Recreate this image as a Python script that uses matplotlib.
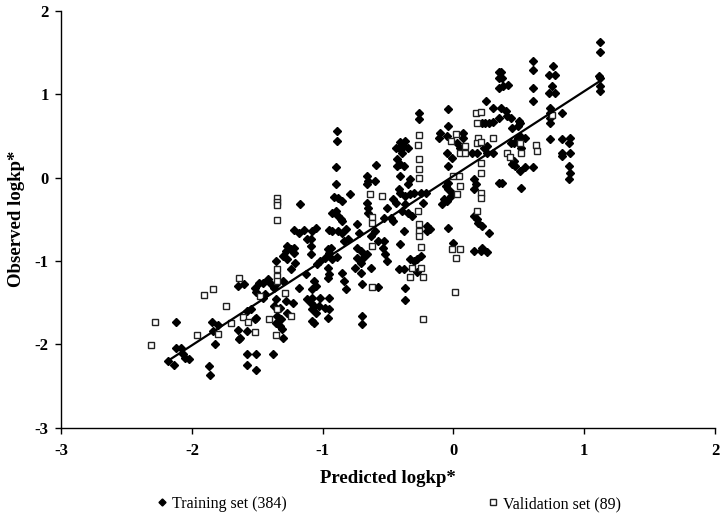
import numpy as np
import matplotlib
matplotlib.use("Agg")
import matplotlib.pyplot as plt

plt.rcParams['font.family'] = ['Liberation Serif', 'DejaVu Serif']
plt.rcParams['axes.unicode_minus'] = False

# --- data (predicted, observed) ---
train_x = [
    -1.65, -1.60, -1.52, -1.51, -1.49, -2.12, -1.85, -1.80, -1.84, -1.82,
    -2.12, -2.08, -2.07, -2.05, -2.02, -2.18, -2.14, -1.87, -1.86, -1.65,
    -1.63, -1.58, -1.64, -1.58, -1.55, -1.51, -1.52, -1.58, -1.51, -1.58,
    -1.51,
    -0.89, -0.89,
    -0.90, -0.59, -0.90, -1.17, -0.79, -0.91, -0.88, -0.85, -0.66, -0.65,
    -0.66, -0.60, -0.93, -0.90, -0.88, -0.86, -0.85, -0.66, -0.65, -0.65,
    -1.22, -1.18, -1.14, -1.08, -1.05, -1.09, -1.09, -1.12, -0.95, -0.93,
    -0.88, -0.85, -0.82, -0.74, -0.72, -1.27, -1.24, -1.22, -1.28, -1.30,
    -1.22, -1.36, -1.27, -1.21, -1.09, -0.96, -0.94, -0.95, -0.98, -0.93,
    -0.89, -0.84, -0.81, -0.74, -0.71, -0.74, -0.69, -0.71, -0.66, -0.63,
    -0.60, -0.58, -1.04, -1.02,
    -1.24, -1.42, -1.40, -1.36, -1.37, -1.46, -1.30, -1.44, -1.46, -1.36,
    -1.37, -1.33, -1.28, -1.23, -1.27, -1.35, -1.32, -1.36, -1.33, -1.31,
    -1.30, -1.38, -1.18, -1.13, -1.07, -1.05, -1.08, -1.12, -1.08, -1.09,
    -1.07, -1.08, -1.05, -1.02, -0.95, -1.03, -0.98, -0.95, -0.96, -1.08,
    -1.07, -0.96, -0.95, -0.96, -0.85, -0.84, -0.82, -0.75, -0.71, -0.70,
    -0.63, -0.70, -0.70, -0.58,
    -0.26, -0.26, -0.04, -0.04, -0.10, -0.11, -0.05, 0.07, 0.07, 0.03,
    0.05, -0.41, -0.37, -0.38, -0.42, -0.44, -0.35, 0.25, 0.30, 0.22,
    0.24, 0.27, 0.30, 0.35, 0.35, 0.35, 0.35, 0.26, 0.23,
    -0.43, -0.41, -0.38, -0.43, -0.39, -0.41, -0.35, -0.33, -0.42, -0.41,
    -0.46, -0.44, -0.37, -0.33, -0.30, -0.25, -0.23, -0.21, -0.37, -0.39,
    -0.35, -0.32, -0.51, -0.53, -0.48, -0.46, -0.38, -0.41, -0.20, -0.18,
    -0.20, -0.53, -0.04, -0.05, -0.01, -0.04, -0.06, -0.04, -0.02, -0.07,
    -0.05, -0.09, -0.01, -0.04, 0.16, 0.17, 0.16, 0.14, 0.18, 0.26,
    0.30, 0.16, 0.18, 0.19, 0.22, 0.27, 0.16, 0.21, 0.26, 0.22,
    0.00, -0.54, -0.52, -0.51, -0.33, -0.30, -0.28, -0.25, 0.35,
    -0.42, -0.38, -0.28, -0.37, -0.37,
    1.12, 1.12, 1.11, 1.12, 1.12, 1.12, 0.61, 0.61, 0.61, 0.61,
    0.76, 0.73, 0.78, 0.75, 0.73, 0.78, 0.74, 0.74, 0.74, 0.74,
    0.83, 0.74, 0.83, 0.89, 0.88, 0.36, 0.37, 0.38, 0.42, 0.36,
    0.40, 0.41, 0.44, 0.50, 0.51, 0.49, 0.45, 0.51, 0.55, 0.49,
    0.46, 0.44, 0.52,
    0.46, 0.45, 0.47, 0.55, 0.61, 0.51, 0.37, 0.52, 0.83, 0.83,
    0.89, 0.88, 0.89, 0.88,
]
train_y = [
    -1.30, -1.28, -1.32, -1.37, -1.26, -1.73, -1.73, -1.77, -1.84, -2.00,
    -2.04, -2.04, -2.12, -2.16, -2.18, -2.20, -2.25, -2.26, -2.37, -1.83,
    -1.92, -1.84, -1.94, -1.60, -1.58, -1.68, -1.70, -2.12, -2.12, -2.25,
    -2.31,
    0.56, 0.44,
    0.13, 0.15, -0.08, -0.32, -0.20, -0.23, -0.25, -0.28, 0.02, -0.04,
    -0.08, -0.04, -0.42, -0.40, -0.46, -0.50, -0.52, -0.30, -0.36, -0.42,
    -0.63, -0.66, -0.63, -0.64, -0.60, -0.74, -0.82, -0.74, -0.63, -0.64,
    -0.64, -0.66, -0.62, -0.56, -0.66, -0.82, -0.86, -0.84, -0.88, -0.94,
    -0.90, -1.00, -0.98, -1.02, -0.92, -0.86, -0.84, -0.90, -0.96, -0.98,
    -0.95, -0.76, -0.74, -0.84, -0.88, -0.96, -0.96, -1.02, -0.92, -0.70,
    -0.64, -0.76, -1.03, -1.00,
    -1.10, -1.22, -1.26, -1.28, -1.32, -1.26, -1.24, -1.40, -1.44, -1.46,
    -1.54, -1.56, -1.48, -1.50, -1.62, -1.66, -1.70, -1.74, -1.78, -1.82,
    -1.92, -2.12, -1.32, -1.16, -1.24, -1.30, -1.34, -1.46, -1.44, -1.50,
    -1.54, -1.58, -1.62, -1.44, -1.44, -1.54, -1.56, -1.58, -1.68, -1.72,
    -1.74, -1.08, -1.16, -1.20, -1.14, -1.24, -1.34, -1.08, -1.14, -1.28,
    -1.08, -1.66, -1.76, -1.31,
    0.78, 0.70, 0.82, 0.62, 0.54, 0.47, 0.50, 0.54, 0.47, 0.41,
    0.36, 0.43, 0.44, 0.38, 0.35, 0.35, 0.35, 0.92, 0.83, 0.66,
    0.65, 0.66, 0.67, 1.27, 1.19, 1.07, 0.72, 0.38, 0.35,
    0.22, 0.16, 0.14, 0.14, 0.29, 0.02, -0.08, -0.02, -0.14, -0.18,
    -0.26, -0.30, -0.22, -0.20, -0.18, -0.18, -0.30, -0.18, -0.32, -0.40,
    -0.42, -0.46, -0.36, -0.48, -0.48, -0.52, -0.64, -0.80, -0.58, -0.62,
    -0.64, -0.76, -0.60, 0.30, 0.24, 0.14, -0.10, -0.14, -0.22, -0.26,
    -0.28, -0.32, -0.18, -0.06, -0.02, -0.08, -0.14, 0.29, 0.30, 0.29,
    0.30, -0.46, -0.50, -0.54, -0.58, -0.66, -0.88, -0.88, -0.89, -0.84,
    -0.79, -0.84, -0.92, -1.00, -0.98, -1.00, -0.98, -0.94, -0.06,
    -1.10, -1.10, -1.13, -1.32, -1.47,
    1.62, 1.50, 1.22, 1.19, 1.10, 1.04, 1.40, 1.29, 1.08, 0.92,
    1.34, 1.23, 1.23, 1.10, 1.02, 1.02, 0.84, 0.77, 0.71, 0.65,
    0.77, 0.46, 0.46, 0.48, 0.41, 1.26, 1.19, 1.10, 1.11, 0.84,
    0.80, 0.74, 0.71, 0.68, 0.66, 0.62, 0.59, 0.50, 0.48, 0.47,
    0.42, 0.41, 0.36,
    0.20, 0.16, 0.14, 0.13, 0.13, 0.08, -0.06, -0.12, 0.30, 0.26,
    0.29, 0.14, 0.05, -0.02,
]

valid_x = [
    -1.64, -1.91, -1.84, -1.74, -2.28, -2.31, -1.96, -1.80, -1.70, -1.61,
    -1.57, -1.52, -1.48, -1.35, -1.35, -1.35, -1.35, -0.64, -0.62, -0.62,
    -0.62, -1.35, -1.35, -1.35, -1.29, -1.35, -1.41, -1.24, -1.36, -0.62,
    -0.26, -0.27, 0.02, -0.02, 0.09, 0.17, 0.18, 0.21, 0.19, 0.18,
    0.21, 0.30, -0.26, -0.26, -0.26, 0.05, 0.09, 0.04, 0.00, 0.05,
    0.03, 0.21, 0.21, 0.21, 0.21, 0.18, -0.27, -0.26, -0.26, -0.26,
    -0.25, -0.01, 0.05, 0.02, -0.55, -0.33, -0.23, -0.32, -0.25, 0.01,
    -0.23, 0.51, 0.63, 0.41, 0.43, 0.52, 0.64, 0.75,
]
valid_y = [
    -1.20, -1.41, -1.34, -1.54, -1.73, -2.01, -1.89, -1.88, -1.74, -1.67,
    -1.73, -1.85, -1.42, -0.25, -0.29, -0.33, -0.51, -0.20, -0.47, -0.54,
    -0.82, -1.09, -1.18, -1.24, -1.38, -1.57, -1.70, -1.66, -1.89, -1.31,
    0.51, 0.39, 0.52, 0.44, 0.38, 0.77, 0.65, 0.79, 0.48, 0.42,
    0.43, 0.47, 0.22, 0.10, 0.00, 0.30, 0.30, 0.02, 0.02, -0.10,
    -0.20, 0.18, 0.05, -0.18, -0.24, -0.40, -0.40, -0.56, -0.64, -0.70,
    -0.83, -0.86, -0.86, -0.96, -0.22, -1.19, -1.19, -1.08, -1.08, -1.37,
    -1.70, 0.42, 0.39, 0.30, 0.25, 0.30, 0.32, 0.75,
]

# trend line of the training set
fit_slope = 1.015
fit_intercept = 0.02

n_train = 384
n_valid = 89

# --- figure ---
fig = plt.figure(figsize=(7.2, 5.13), dpi=100)
ax = fig.add_axes([0.085, 0.166, 0.908, 0.813])

h_train, = ax.plot(train_x, train_y, 'D', color='black', markersize=4.2,
                   linestyle='none')
h_valid, = ax.plot(valid_x, valid_y, 's', markerfacecolor='white',
                   markeredgecolor='#222222', markeredgewidth=1.0,
                   markersize=4.6, linestyle='none')

xl = np.array([min(train_x), max(train_x)])
ax.plot(xl, fit_slope * xl + fit_intercept, color='black', linewidth=1.6)

ax.set_xlim(-3, 2)
ax.set_ylim(-3, 2)
ax.set_xticks(np.arange(-3, 3, 1))
ax.set_yticks(np.arange(-3, 3, 1))

for s in ['top', 'right']:
    ax.spines[s].set_visible(False)
for s in ['left', 'bottom']:
    ax.spines[s].set_linewidth(1.0)

ax.tick_params(axis='x', direction='out', length=4, width=1, pad=7, labelsize=12)
ax.tick_params(axis='y', direction='out', length=4, width=1, pad=5, labelsize=12)
for lab in ax.get_xticklabels() + ax.get_yticklabels():
    lab.set_fontweight('bold')

ax.set_xlabel('Predicted logkp*', fontsize=13.5, fontweight='bold', labelpad=8)
ax.set_ylabel('Observed logkp*', fontsize=13.5, fontweight='bold', labelpad=7)

# legend entries sit far apart under the axis, as in the original
leg_y = 1 - 504 / 513
for h, txt, x0 in [(h_train, f'Training set ({n_train})', 156 / 720),
                   (h_valid, f'Validation set ({n_valid})', 487 / 720)]:
    fig.legend([h], [txt], loc='center left', bbox_to_anchor=(x0, leg_y),
               frameon=False, fontsize=11.5, borderpad=0, borderaxespad=0,
               handlelength=0.8, handletextpad=0.2, markerscale=0.85)

fig.savefig('out.png', dpi=100)
